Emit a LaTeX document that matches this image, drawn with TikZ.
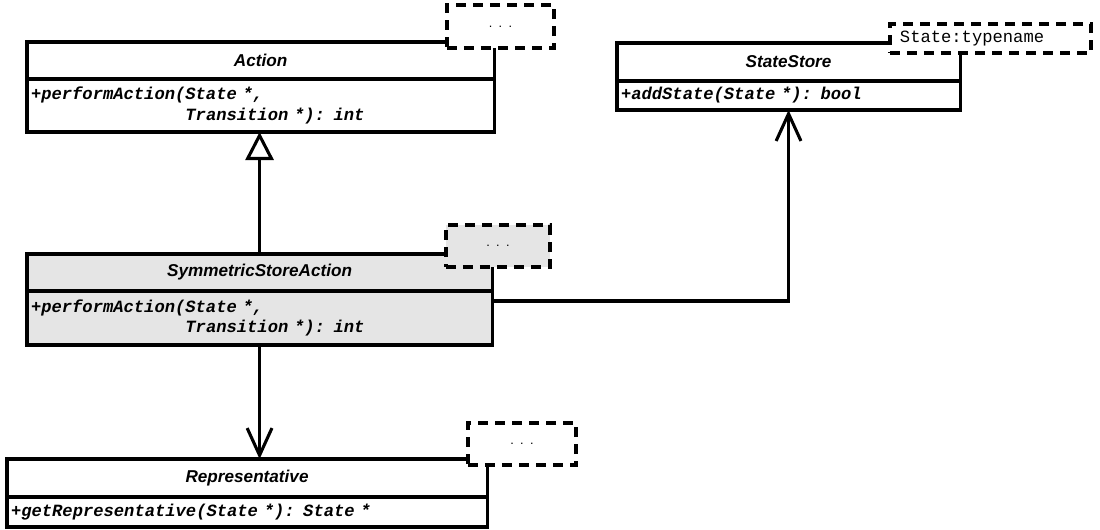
\documentclass[tikz,border=0pt]{standalone}
\usepackage{fontspec}
\setmainfont{Liberation Sans}
\newfontfamily\codefont{Liberation Mono}
\usetikzlibrary{arrows.meta, positioning}
\tikzset{> = {Straight Barb[length=0.68cm, width=0.62cm]}}
\tikzset{
  classtitle/.style = {draw, line width=2.2pt, fill=white, anchor=north west, inner sep=0pt, outer sep=0pt,
    font=\fontsize{12.2}{14.4}\selectfont\bfseries\itshape},
  classbody/.style = {draw, line width=2.2pt, fill=white, anchor=north west, inner xsep=0.1cm, inner ysep=0pt,
    outer sep=0pt, text width=#1, align=left, font=\codefont\fontsize{12.2}{14.6}\selectfont\bfseries\itshape},
  classbody/.default = 5cm,
  notebox/.style = {draw, line width=2.2pt, dash pattern=on 0.25cm off 0.175cm, fill=white,
    inner sep=0pt, outer sep=0pt, font=\fontsize{9}{11}\selectfont},
  edge/.style = {line width=2.2pt}
}

\begin{document}
\begin{tikzpicture}[x=0.025cm, y=-0.025cm]
\useasboundingbox (0,0) rectangle (1100,529);
% classes
\node[classtitle, minimum width=11.675cm, minimum height=0.925cm] (act) at (27,42) {Action};
\node[classbody=11.475cm, minimum height=1.325cm] (act-body) at (act.south west)
  {+performAction(State *,\\\phantom{+performAction(}Transition *): int};

\node[classtitle, minimum width=8.575cm, minimum height=0.95cm] (store) at (617,43) {StateStore};
\node[classbody=8.375cm, minimum height=0.725cm] (store-body) at (store.south west)
  {+addState(State *): bool};

\node[classtitle, fill=black!10, minimum width=11.625cm, minimum height=0.925cm] (ssa) at (27,254) {SymmetricStoreAction};
\node[classbody=11.425cm, fill=black!10, minimum height=1.35cm] (ssa-body) at (ssa.south west)
  {+performAction(State *,\\\phantom{+performAction(}Transition *): int};

\node[classtitle, minimum width=12cm, minimum height=0.95cm] (rep) at (7,459) {Representative};
\node[classbody=11.8cm, minimum height=0.75cm] (rep-body) at (rep.south west)
  {+getRepresentative(State *): State *};

% template notes
\node[notebox, minimum width=2.675cm, minimum height=1.075cm] (act-note) at (500.5,26.5) {.\enspace.\enspace.};
\node[notebox, fill=black!10, minimum width=2.6cm, minimum height=1.05cm] (ssa-note) at (498,246) {.\enspace.\enspace.};
\node[notebox, minimum width=2.7cm, minimum height=1.05cm] (rep-note) at (522,444) {.\enspace.\enspace.};
\node[notebox, minimum width=5.025cm, minimum height=0.725cm, inner xsep=0.25cm, text width=4.525cm, align=left,
  font=\codefont\fontsize{12.2}{14.6}\selectfont] (store-note) at (990.5,38.5) {State:typename};

% edges
\draw[edge, -{Triangle[open, length=0.7cm, width=0.7cm]}] (ssa.north) -- (ssa.north |- act-body.south); % inheritance
\draw[edge, ->] ([yshift=-0.25cm]ssa-body.north east) -| (store-body.south);
\draw[edge, ->] (ssa-body.south) -- (ssa-body.south |- rep.north);

\end{tikzpicture}
\end{document}
